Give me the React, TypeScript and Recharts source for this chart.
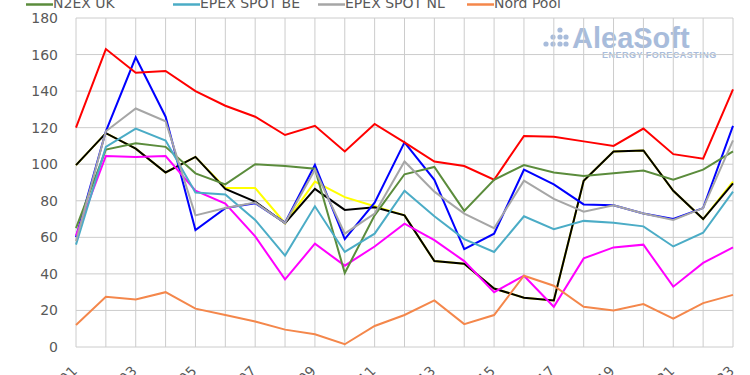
import React from "react";
import { LineChart, Line, XAxis, YAxis, CartesianGrid } from "recharts";

const weeks = ["W01","W02","W03","W04","W05","W06","W07","W08","W09","W10","W11","W12","W13","W14","W15","W16","W17","W18","W19","W20","W21","W22","W23"];
const yTicks = [0, 20, 40, 60, 80, 100, 120, 140, 160, 180];

const mibelES = [99.5, 117, 108.5, 95.5, 104, 86.5, 79.5, 67.7, 86.5, 75, 76.5, 72, 47, 45.5, 32, 27, 25.5, 91, 107, 107.5, 85.5, 70, 89.5];
const mibelPT = [99.5, 117, 108.5, 95.5, 104, 87, 87, 67.7, 90.5, 82, 77, 72, 47, 45.5, 32, 27, 25.5, 91, 107, 107.5, 85.5, 70, 90.5];
const epexFR = [60, 118, 158.5, 126, 64, 76, 78.7, 68, 99.6, 59, 79, 112, 91.5, 53.5, 62, 97, 89, 78, 77.5, 73, 70, 76, 121];
const epexDE = [61, 104.5, 104, 104.5, 85.5, 78.5, 60.5, 37, 56.5, 44.5, 55, 67.5, 58.5, 47, 30, 39, 22, 48.5, 54.5, 56, 33, 46, 54.5];
const ipexIT = [120, 163, 150, 151, 140, 132, 126, 116, 121, 107, 122, 112, 101.5, 99, 91.5, 115.5, 115, 112.5, 110, 119.5, 105.5, 103, 141];
const n2exUK = [65, 108, 111.5, 109.5, 95, 89, 100, 99, 97.5, 40.5, 72, 94.5, 98.5, 74.5, 91.5, 99.5, 95.5, 93.5, 95, 96.5, 91.5, 97, 107];
const epexBE = [56, 109.5, 119.5, 113, 84.5, 83.5, 69.5, 50, 77, 52, 62, 85.5, 71.5, 59, 52, 71.5, 64.5, 69, 68, 66, 55, 62.5, 85];
const epexNL = [58, 118, 130.5, 123.5, 72, 76, 79, 67.8, 97, 62, 73, 101.5, 85, 73, 65, 91, 81, 74, 77.5, 73, 69.5, 76, 113];
const nordPool = [12, 27.5, 26, 30, 21, 17.5, 14, 9.5, 7, 1.5, 11.5, 17.5, 25.5, 12.5, 17.5, 39, 33.5, 22, 20, 23.5, 15.5, 24, 28.5];

const data = weeks.map((w, i) => ({
  week: w,
  es: mibelES[i],
  pt: mibelPT[i],
  fr: epexFR[i],
  de: epexDE[i],
  it: ipexIT[i],
  uk: n2exUK[i],
  be: epexBE[i],
  nl: epexNL[i],
  np: nordPool[i],
}));

const series = [
  { key: "pt", name: "MIBEL Portugal", color: "#ffff00" },
  { key: "es", name: "MIBEL España", color: "#000000" },
  { key: "fr", name: "EPEX SPOT FR", color: "#0000ff" },
  { key: "de", name: "EPEX SPOT DE", color: "#ff00ff" },
  { key: "it", name: "IPEX IT", color: "#ff0000" },
  { key: "uk", name: "N2EX UK", color: "#5b8c3c" },
  { key: "be", name: "EPEX SPOT BE", color: "#4bacc6" },
  { key: "nl", name: "EPEX SPOT NL", color: "#a6a6a6" },
  { key: "np", name: "Nord Pool", color: "#f4874b" },
];

const legendItems = [
  { name: "N2EX UK", color: "#5b8c3c", x: 26 },
  { name: "EPEX SPOT BE", color: "#4bacc6", x: 173 },
  { name: "EPEX SPOT NL", color: "#a6a6a6", x: 318 },
  { name: "Nord Pool", color: "#f4874b", x: 467 },
];

const FONT = "'DejaVu Sans', sans-serif";

const XTick = (props: any) => {
  const { x, y, payload } = props;
  if (payload.index % 2 !== 0) return null;
  const ax = x + 2;
  const ay = y + 25;
  return (
    <text x={ax} y={ay} textAnchor="end" fill="#595959" fontSize={14} fontFamily={FONT} transform={`rotate(-45, ${ax}, ${ay})`}>
      {payload.value}
    </text>
  );
};

export default function App() {
  return (
    <div style={{ position: "absolute", top: 0, left: 0, width: 750, height: 375, background: "#fff", overflow: "hidden" }}>
      <svg width={750} height={375} style={{ position: "absolute", top: 0, left: 0 }}>
        {legendItems.map((l) => (
          <g key={l.name}>
            <line x1={l.x} x2={l.x + 27} y1={4.5} y2={4.5} stroke={l.color} strokeWidth={2.5} />
            <text x={l.x + 27} y={8} fill="#595959" fontSize={14} fontFamily={FONT}>{l.name}</text>
          </g>
        ))}
        <g fill="#a8bcdb">
          <circle cx={546} cy={44} r={2.6} />
          <circle cx={553} cy={44} r={2.6} />
          <circle cx={553} cy={37} r={2.6} />
          <circle cx={560} cy={44} r={2.6} />
          <circle cx={560} cy={37} r={2.6} />
          <circle cx={560} cy={30} r={2.6} />
          <circle cx={566} cy={44} r={2.6} />
          <circle cx={566} cy={37} r={2.6} />
        </g>
        <text x={572} y={48} fill="#a8bcdb" fontSize={29} fontWeight="bold" fontFamily="'Liberation Sans', Arial, sans-serif">AleaSoft</text>
        <text x={602} y={58} fill="#a8bcdb" fontSize={9} fontWeight="bold" fontFamily="'Liberation Sans', Arial, sans-serif" letterSpacing={0.5}>ENERGY FORECASTING</text>
      </svg>
      <div style={{ position: "absolute", top: 0, left: 0 }}>
        <LineChart width={750} height={375} data={data} margin={{ top: 18, right: 17, left: 0, bottom: 0 }}>
          <CartesianGrid stroke="#cccccc" strokeWidth={1} vertical={true} horizontal={true} />
          <XAxis
            dataKey="week"
            interval={0}
            height={28}
            tickLine={false}
            axisLine={false}
            tickSize={0}
            tickMargin={0}
            padding={{ left: 0, right: 0 }}
            tick={<XTick />}
          />
          <YAxis
            width={76}
            domain={[0, 180]}
            ticks={yTicks}
            interval={0}
            tickLine={false}
            axisLine={false}
            tickSize={0}
            tickMargin={18}
            tick={{ fill: "#595959", fontSize: 14, fontFamily: FONT }}
          />
          {series.map((s) => (
            <Line
              key={s.key}
              type="linear"
              dataKey={s.key}
              name={s.name}
              stroke={s.color}
              strokeWidth={2}
              dot={false}
              activeDot={false}
              isAnimationActive={false}
            />
          ))}
        </LineChart>
      </div>
    </div>
  );
}
